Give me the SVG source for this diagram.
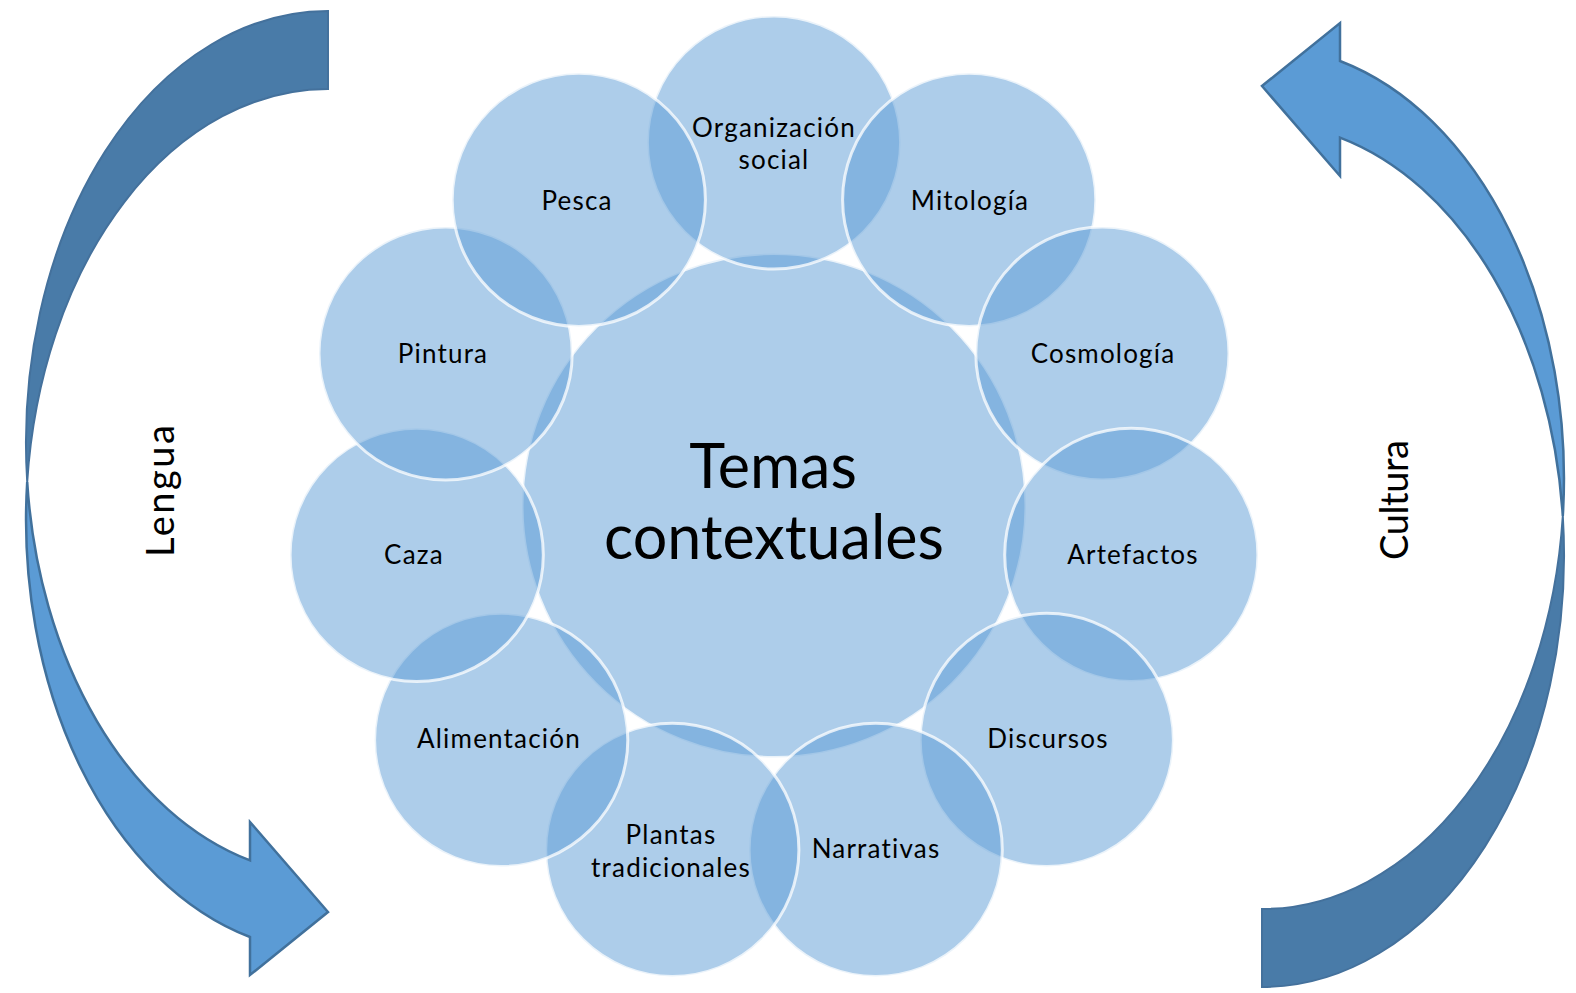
<svg xmlns="http://www.w3.org/2000/svg" width="1576" height="993" viewBox="0 0 1576 993">
<style>
.c{fill:#5B9BD5;fill-opacity:0.5;stroke:#ffffff;stroke-opacity:0.75;stroke-width:3}
.t{font-family:Lato,"Open Sans","Liberation Sans",sans-serif;font-size:26px;letter-spacing:1.2px;fill:#000;text-anchor:middle}
.big{font-family:Lato,"Open Sans","Liberation Sans",sans-serif;font-size:61px;fill:#000;text-anchor:middle}
.side{font-family:Lato,"Open Sans","Liberation Sans",sans-serif;font-size:38px;fill:#000;text-anchor:middle}
.dark{fill:#497BA8;stroke:#44719C;stroke-width:2}
.light{fill:#5B9BD5;stroke:#41719C;stroke-width:2.5;stroke-linejoin:miter}
</style>
<rect width="1576" height="993" fill="#ffffff"/>
<g id="connectors">
  <g id="arrow-lengua">
    <path class="dark" d="M328,11 A302,432 0 0 0 27.2,482 A302,432 0 0 1 328,89 Z"/>
    <path class="light" d="M27.2,482 A302,432 0 0 0 250,937 L250,975 L328,912 L250,822 L250,860.4 A302,432 0 0 1 27.2,482 Z"/>
  </g>
  <g id="arrow-cultura" transform="rotate(180 795 499)">
    <path class="dark" d="M328,11 A302,432 0 0 0 27.2,482 A302,432 0 0 1 328,89 Z"/>
    <path class="light" d="M27.2,482 A302,432 0 0 0 250,937 L250,975 L328,912 L250,822 L250,860.4 A302,432 0 0 1 27.2,482 Z"/>
  </g>
</g>
<g id="label-lengua"><text class="side" transform="translate(174,491) rotate(-90)" textLength="132" lengthAdjust="spacing">Lengua</text></g>
<g id="label-cultura"><text class="side" transform="translate(1408,500) rotate(-90)" textLength="120" lengthAdjust="spacing">Cultura</text></g>
<g id="center">
  <circle class="c" cx="774" cy="505.5" r="252"/>
  <text class="big" x="773" y="488">Temas</text>
  <text class="big" x="774" y="559">contextuales</text>
</g>
<g id="n-organizacion"><circle class="c" cx="774" cy="142.5" r="126.6"/><text class="t" x="774" y="137">Organización</text><text class="t" x="774" y="169">social</text></g>
<g id="n-mitologia"><circle class="c" cx="969.2" cy="199.8" r="126.6"/><text class="t" x="970" y="210">Mitología</text></g>
<g id="n-cosmologia"><circle class="c" cx="1102.4" cy="353.5" r="126.6"/><text class="t" x="1103" y="363">Cosmología</text></g>
<g id="n-artefactos"><circle class="c" cx="1131.3" cy="554.9" r="126.6"/><text class="t" x="1133" y="564">Artefactos</text></g>
<g id="n-discursos"><circle class="c" cx="1046.8" cy="739.9" r="126.6"/><text class="t" x="1048" y="748">Discursos</text></g>
<g id="n-narrativas"><circle class="c" cx="875.7" cy="849.9" r="126.6"/><text class="t" x="876" y="858">Narrativas</text></g>
<g id="n-plantas"><circle class="c" cx="672.3" cy="849.9" r="126.6"/><text class="t" x="671" y="844">Plantas</text><text class="t" x="671" y="877">tradicionales</text></g>
<g id="n-alimentacion"><circle class="c" cx="501.2" cy="739.9" r="126.6"/><text class="t" x="499" y="748">Alimentación</text></g>
<g id="n-caza"><circle class="c" cx="416.7" cy="554.9" r="126.6"/><text class="t" x="414" y="564">Caza</text></g>
<g id="n-pintura"><circle class="c" cx="445.6" cy="353.5" r="126.6"/><text class="t" x="443" y="363">Pintura</text></g>
<g id="n-pesca"><circle class="c" cx="578.8" cy="199.8" r="126.6"/><text class="t" x="577" y="210">Pesca</text></g>
</svg>
